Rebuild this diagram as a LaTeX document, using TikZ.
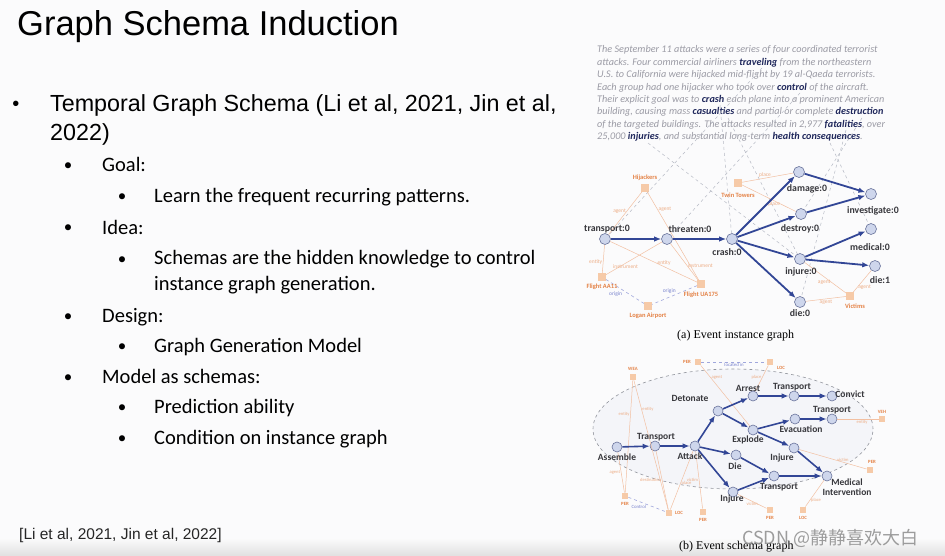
\documentclass[tikz,border=0pt]{standalone}
\usepackage{fontspec}
\setmainfont{Carlito}
\newfontfamily\slidefont{Liberation Sans}
\newfontfamily\capfont{Liberation Serif}
\newfontfamily\cjkfont{Noto Sans CJK SC}
\usetikzlibrary{arrows.meta,positioning}
\definecolor{SlideClr}{RGB}{251,251,252}
\definecolor{ArrowClr}{RGB}{50,70,150}
\definecolor{EvtLine}{RGB}{105,115,155}
\definecolor{NodeClr}{RGB}{206,214,236}
\definecolor{EntClr}{RGB}{228,130,70}
\definecolor{BoxClr}{RGB}{246,202,168}
\definecolor{GreyTxt}{RGB}{155,155,165}
\definecolor{BoldTxt}{RGB}{32,40,92}
\definecolor{DashClr}{RGB}{182,186,196}
\definecolor{OriginClr}{RGB}{120,130,205}
\definecolor{LblClr}{RGB}{55,55,60}
\definecolor{EllClr}{RGB}{244,245,249}
\newcommand{\hiword}[1]{{\bfseries\color{BoldTxt}#1}}

\begin{document}
\begin{tikzpicture}[x=1pt,y=-1pt,
  ttl/.style={font=\slidefont\fontsize{34.5}{36}\selectfont,anchor=base west,inner sep=0},
  lvA/.style={font=\slidefont\fontsize{23.3}{25}\selectfont,anchor=base west,inner sep=0},
  lvB/.style={font=\fontsize{20.5}{22}\selectfont,anchor=base west,inner sep=0},
  bulA/.style={font=\slidefont\fontsize{20}{22}\selectfont,anchor=base,inner sep=0},
  bulB/.style={font=\fontsize{17}{19}\selectfont,anchor=base,inner sep=0},
  para/.style={font=\itshape\fontsize{10.2}{11}\selectfont,text=GreyTxt,anchor=base west,inner sep=0},
  evt/.style={circle,draw=EvtLine,fill=NodeClr,line width=0.6pt,minimum size=11pt,inner sep=0},
  sevt/.style={evt,minimum size=10pt},
  flow/.style={-{Latex[length=7pt,width=5.5pt]},line width=1.8pt,draw=ArrowClr},
  sflow/.style={flow,line width=1.6pt},
  ent/.style={rectangle,fill=BoxClr,minimum size=7.5pt,inner sep=0},
  sent/.style={ent,minimum size=6.5pt},
  rel/.style={draw=EntClr!50,line width=0.5pt},
  link/.style={draw=OriginClr!70,dashed,line width=0.6pt},
  hint/.style={draw=DashClr,dashed,line width=0.5pt},
  evlbl/.style={font=\bfseries\fontsize{9.8}{10}\selectfont,text=LblClr,inner sep=0},
  sclbl/.style={font=\bfseries\fontsize{9.5}{10}\selectfont,text=LblClr,inner sep=0},
  enlbl/.style={font=\bfseries\fontsize{6.5}{7}\selectfont,text=EntClr,inner sep=0},
  senlbl/.style={font=\bfseries\fontsize{4.8}{5}\selectfont,text=EntClr,inner sep=0},
  rlbl/.style={font=\fontsize{5.5}{6}\selectfont,text=EntClr!65,inner sep=0.8pt},
  srlbl/.style={font=\fontsize{4.6}{5}\selectfont,text=EntClr!65,inner sep=0.8pt},
  olbl/.style={font=\fontsize{5.5}{6}\selectfont,text=OriginClr,inner sep=0.8pt}]

\useasboundingbox (0,0) rectangle (945,556);
\fill[SlideClr] (0,0) rectangle (945,556);
\shade[top color=SlideClr,bottom color=black!12] (0,538) rectangle (945,556);

% slide text
\node[ttl] (title) at (17,36) {Graph Schema Induction};

\node[bulA] (bA) at (16,111) {\textbullet};
\node[lvA] (tA) at (50,112) {Temporal Graph Schema (Li et al, 2021, Jin et al,};
\node[lvA] (tAb) at (50,141) {2022)};

\node[bulB] (bGoal) at (68,171) {\textbullet};
\node[lvB] (tGoal) at (102,172) {Goal:};
\node[bulB] (bLearn) at (122,202) {\textbullet};
\node[lvB] (tLearn) at (154,203) {Learn the frequent recurring patterns.};
\node[bulB] (bIdea) at (68,233) {\textbullet};
\node[lvB] (tIdea) at (102,234) {Idea:};
\node[bulB] (bHidden) at (122,264) {\textbullet};
\node[lvB] (tHidden) at (154,265) {Schemas are the hidden knowledge to control};
\node[lvB] (tHiddenb) at (154,290) {instance graph generation.};
\node[bulB] (bDesign) at (68,321) {\textbullet};
\node[lvB] (tDesign) at (102,322) {Design:};
\node[bulB] (bGen) at (122,351) {\textbullet};
\node[lvB] (tGen) at (154,352) {Graph Generation Model};
\node[bulB] (bModel) at (68,382) {\textbullet};
\node[lvB] (tModel) at (102,383) {Model as schemas:};
\node[bulB] (bPred) at (122,412) {\textbullet};
\node[lvB] (tPred) at (154,413) {Prediction ability};
\node[bulB] (bCond) at (122,443) {\textbullet};
\node[lvB] (tCond) at (154,444) {Condition on instance graph};

\node[font=\slidefont\fontsize{15.5}{17}\selectfont,text=black!85,anchor=base west,inner sep=0] (cite) at (19,539) {[Li et al, 2021, Jin et al, 2022]};

% news paragraph
\node[para] (p1) at (597,53) {The September 11 attacks were a series of four coordinated terrorist};
\node[para] (p2) at (597,65.35) {attacks. Four commercial airliners \hiword{traveling} from the northeastern};
\node[para] (p3) at (597,77.7) {U.S. to California were hijacked mid-flight by 19 al-Qaeda terrorists.};
\node[para] (p4) at (597,90.05) {Each group had one hijacker who took over \hiword{control} of the aircraft.};
\node[para] (p5) at (597,102.4) {Their explicit goal was to \hiword{crash} each plane into a prominent American};
\node[para] (p6) at (597,114.75) {building, causing mass \hiword{casualties} and partial or complete \hiword{destruction}};
\node[para] (p7) at (597,127.1) {of the targeted buildings. The attacks resulted in 2,977 \hiword{fatalities}, over};
\node[para] (p8) at (597,139.45) {25,000 \hiword{injuries}, and substantial long-term \hiword{health consequences}.};

\coordinate (wTravel) at (762,68);
\coordinate (wControl) at (800,93);
\coordinate (wCrash) at (720,105);
\coordinate (wCasual) at (728,118);
\coordinate (wDestr) at (862,118);
\coordinate (wFatal) at (846,130);
\coordinate (wInjur) at (648,143);
\coordinate (wHealth) at (830,143);

% event instance graph
\node[evt] (tr) at (605,239) {};
\node[evt] (th) at (667,239) {};
\node[evt] (cr) at (732,239) {};
\node[evt] (dm) at (799,172) {};
\node[evt] (ds) at (801,214) {};
\node[evt] (ij) at (800,259) {};
\node[evt] (d0) at (800,302) {};
\node[evt] (iv) at (871,194) {};
\node[evt] (md) at (871,229) {};
\node[evt] (d1) at (875,266) {};

\node[ent] (hij) at (645,188) {};
\node[ent] (twin) at (738,183) {};
\node[ent] (aa) at (602,277) {};
\node[ent] (ua) at (701,284) {};
\node[ent] (logan) at (648,306) {};
\node[ent] (vict) at (850,296) {};

\draw[hint] (wTravel) -- (tr);
\draw[hint] (wControl) -- (th);
\draw[hint] (wCrash) -- (cr);
\draw[hint] (wCasual) -- (ij);
\draw[hint] (wDestr) -- (ds);
\draw[hint] (wFatal) -- (d0);
\draw[hint] (wInjur) -- (ij);
\draw[hint] (wHealth) -- (md);

\draw[rel] (hij) -- node[rlbl,pos=0.45,left] (r1) {agent} (tr);
\draw[rel] (hij) -- node[rlbl,pos=0.2,right] (r2) {agent} (ua);
\draw[rel] (tr) -- node[rlbl,pos=0.6,left] (r3) {entity} (aa);
\draw[rel] (tr) -- node[rlbl,pos=0.62,above] (r4) {entity} (ua);
\draw[rel] (aa) -- node[rlbl,pos=0.35,below] (r5) {instrument} (th);
\draw[rel] (th) -- node[rlbl,pos=0.6,right] (r6) {instrument} (ua);
\draw[rel] (twin) -- node[rlbl,pos=0.45,above] (r7) {place} (dm);
\draw[rel] (twin) -- node[rlbl,pos=0.6,below] (r8) {place} (ds);
\draw[rel] (vict) -- node[rlbl,pos=0.35,left] (r9) {agent} (ij);
\draw[rel] (vict) -- node[rlbl,pos=0.5,below] (r10) {agent} (d0);
\draw[rel] (vict) -- node[rlbl,pos=0.22,right] (r11) {agent} (d1);
\draw[link] (aa) -- node[olbl,pos=0.45,below left] (o1) {origin} (logan);
\draw[link] (ua) -- node[olbl,pos=0.45,above left] (o2) {origin} (logan);

\draw[flow] (tr) -- (th);
\draw[flow] (th) -- (cr);
\draw[flow] (cr) -- (dm);
\draw[flow] (cr) -- (ds);
\draw[flow] (cr) -- (ij);
\draw[flow] (cr) -- (d0);
\draw[flow] (dm) -- (iv);
\draw[flow] (ds) -- (iv);
\draw[flow] (ij) -- (md);
\draw[flow] (ij) -- (d1);

\node[evlbl] (trL) at (607,229) {transport:0};
\node[evlbl] (thL) at (690,229) {threaten:0};
\node[evlbl] (crL) at (727,252) {crash:0};
\node[evlbl] (dmL) at (807,189) {damage:0};
\node[evlbl] (dsL) at (800,229) {destroy:0};
\node[evlbl] (ijL) at (801,272) {injure:0};
\node[evlbl] (d0L) at (800,313) {die:0};
\node[evlbl] (ivL) at (873,211) {investigate:0};
\node[evlbl] (mdL) at (870,247) {medical:0};
\node[evlbl] (d1L) at (880,280) {die:1};

\node[enlbl] (hijL) at (645,178) {Hijackers};
\node[enlbl] (twinL) at (738,195) {Twin Towers};
\node[enlbl] (aaL) at (602,287) {Flight AA11};
\node[enlbl] (uaL) at (701,295) {Flight UA175};
\node[enlbl] (loganL) at (648,316) {Logan Airport};
\node[enlbl] (victL) at (855,306) {Victims};

\node[font=\capfont\fontsize{12}{13}\selectfont,anchor=base west,inner sep=0] (capA) at (677,338) {(a) Event instance graph};

% event schema graph
\draw[DashClr!80!black,dashed,line width=0.6pt,fill=EllClr] (733,429) ellipse [x radius=140pt,y radius=60pt];

\node[sevt] (asm) at (617,447) {};
\node[sevt] (tp1) at (655,446) {};
\node[sevt] (atk) at (695,446) {};
\node[sevt] (det) at (718,411) {};
\node[sevt] (arr) at (753,396) {};
\node[sevt] (tp2) at (794,396) {};
\node[sevt] (cvt) at (832,396) {};
\node[sevt] (exp) at (753,430) {};
\node[sevt] (evac) at (795,419) {};
\node[sevt] (tp3) at (832,419) {};
\node[sevt] (inj1) at (794,448) {};
\node[sevt] (die) at (736,455) {};
\node[sevt] (tp4) at (774,476) {};
\node[sevt] (inj2) at (733,492) {};
\node[sevt] (med) at (827,476) {};

\node[sent] (wea) at (633,377) {};
\node[sent] (pert) at (698,362) {};
\node[sent] (loct) at (770,362) {};
\node[sent] (veh) at (882,419) {};
\node[sent] (perr) at (870,470) {};
\node[sent] (perbl) at (625,496) {};
\node[sent] (locbl) at (669,513) {};
\node[sent] (perb1) at (703,512) {};
\node[sent] (perb2) at (770,510) {};
\node[sent] (locb) at (803,510) {};

\draw[rel] (wea) -- node[srlbl,pos=0.3,left] (s1) {entity} (perbl);
\draw[rel] (wea) -- node[srlbl,pos=0.22,right] (s2) {entity} (locbl);
\draw[rel] (pert) -- node[srlbl,pos=0.2,right] (s3) {agent} (exp);
\draw[rel] (loct) -- node[srlbl,pos=0.45,left] (s4) {place} (arr);
\draw[rel] (veh) -- node[srlbl,pos=0.4,below] (s5) {entity} (tp3);
\draw[rel] (perr) -- node[srlbl,pos=0.35,above] (s6) {victim} (inj1);
\draw[rel] (perbl) -- node[srlbl,pos=0.5,left] (s7) {agent} (asm);
\draw[rel] (locbl) -- node[srlbl,pos=0.5,left] (s8) {destination} (tp1);
\draw[rel] (locbl) -- node[srlbl,pos=0.45,right] (s9) {place} (atk);
\draw[rel] (perb1) -- node[srlbl,pos=0.5,left] (s10) {victim} (atk);
\draw[rel] (perb2) -- node[srlbl,pos=0.5,below] (s11) {victim} (inj2);
\draw[rel] (locb) -- node[srlbl,pos=0.25,right] (s12) {place} (med);
\draw[link] (pert) -- node[olbl,below,font=\fontsize{4.8}{5}\selectfont] (s13) {located in} (loct);
\draw[link] (perbl) -- node[olbl,below left,font=\fontsize{4.8}{5}\selectfont] (s14) {Control} (locbl);

\draw[sflow] (asm) -- (tp1);
\draw[sflow] (tp1) -- (atk);
\draw[sflow] (atk) -- (det);
\draw[sflow] (atk) -- (die);
\draw[sflow] (atk) -- (inj2);
\draw[sflow] (det) -- (arr);
\draw[sflow] (det) -- (exp);
\draw[sflow] (arr) -- (tp2);
\draw[sflow] (tp2) -- (cvt);
\draw[sflow] (exp) -- (evac);
\draw[sflow] (evac) -- (tp3);
\draw[sflow] (exp) -- (inj1);
\draw[sflow] (inj1) -- (med);
\draw[sflow] (die) -- (tp4);
\draw[sflow] (inj2) -- (tp4);
\draw[sflow] (tp4) -- (med);

\node[sclbl] (asmL) at (617,457) {Assemble};
\node[sclbl] (tp1L) at (656,437) {Transport};
\node[sclbl] (atkL) at (690,456) {Attack};
\node[sclbl] (detL) at (690,398) {Detonate};
\node[sclbl] (arrL) at (748,388) {Arrest};
\node[sclbl] (tp2L) at (792,387) {Transport};
\node[sclbl] (cvtL) at (850,394) {Convict};
\node[sclbl] (expL) at (748,440) {Explode};
\node[sclbl] (evacL) at (801,429) {Evacuation};
\node[sclbl] (tp3L) at (832,410) {Transport};
\node[sclbl] (inj1L) at (782,458) {Injure};
\node[sclbl] (dieL) at (735,466) {Die};
\node[sclbl] (tp4L) at (779,487) {Transport};
\node[sclbl] (inj2L) at (732,499) {Injure};
\node[sclbl,align=center] (medL) at (847,487) {Medical\\Intervention};

\node[senlbl] (weaL) at (633,369) {WEA};
\node[senlbl] (pertL) at (687,362) {PER};
\node[senlbl] (loctL) at (781,368) {LOC};
\node[senlbl] (vehL) at (882,412) {VEH};
\node[senlbl] (perrL) at (872,462) {PER};
\node[senlbl] (perblL) at (625,504) {PER};
\node[senlbl] (locblL) at (679,513) {LOC};
\node[senlbl] (perb1L) at (703,520) {PER};
\node[senlbl] (perb2L) at (770,518) {PER};
\node[senlbl] (locbL) at (803,518) {LOC};

\node[font=\capfont\fontsize{12}{13}\selectfont,anchor=base west,inner sep=0] (capB) at (679,549) {(b) Event schema graph};
\node[font=\cjkfont\fontsize{18}{20}\selectfont,text=black!45,opacity=0.85,anchor=base west,inner sep=0] (mark) at (742,544) {CSDN @静静喜欢大白};

\end{tikzpicture}
\end{document}
